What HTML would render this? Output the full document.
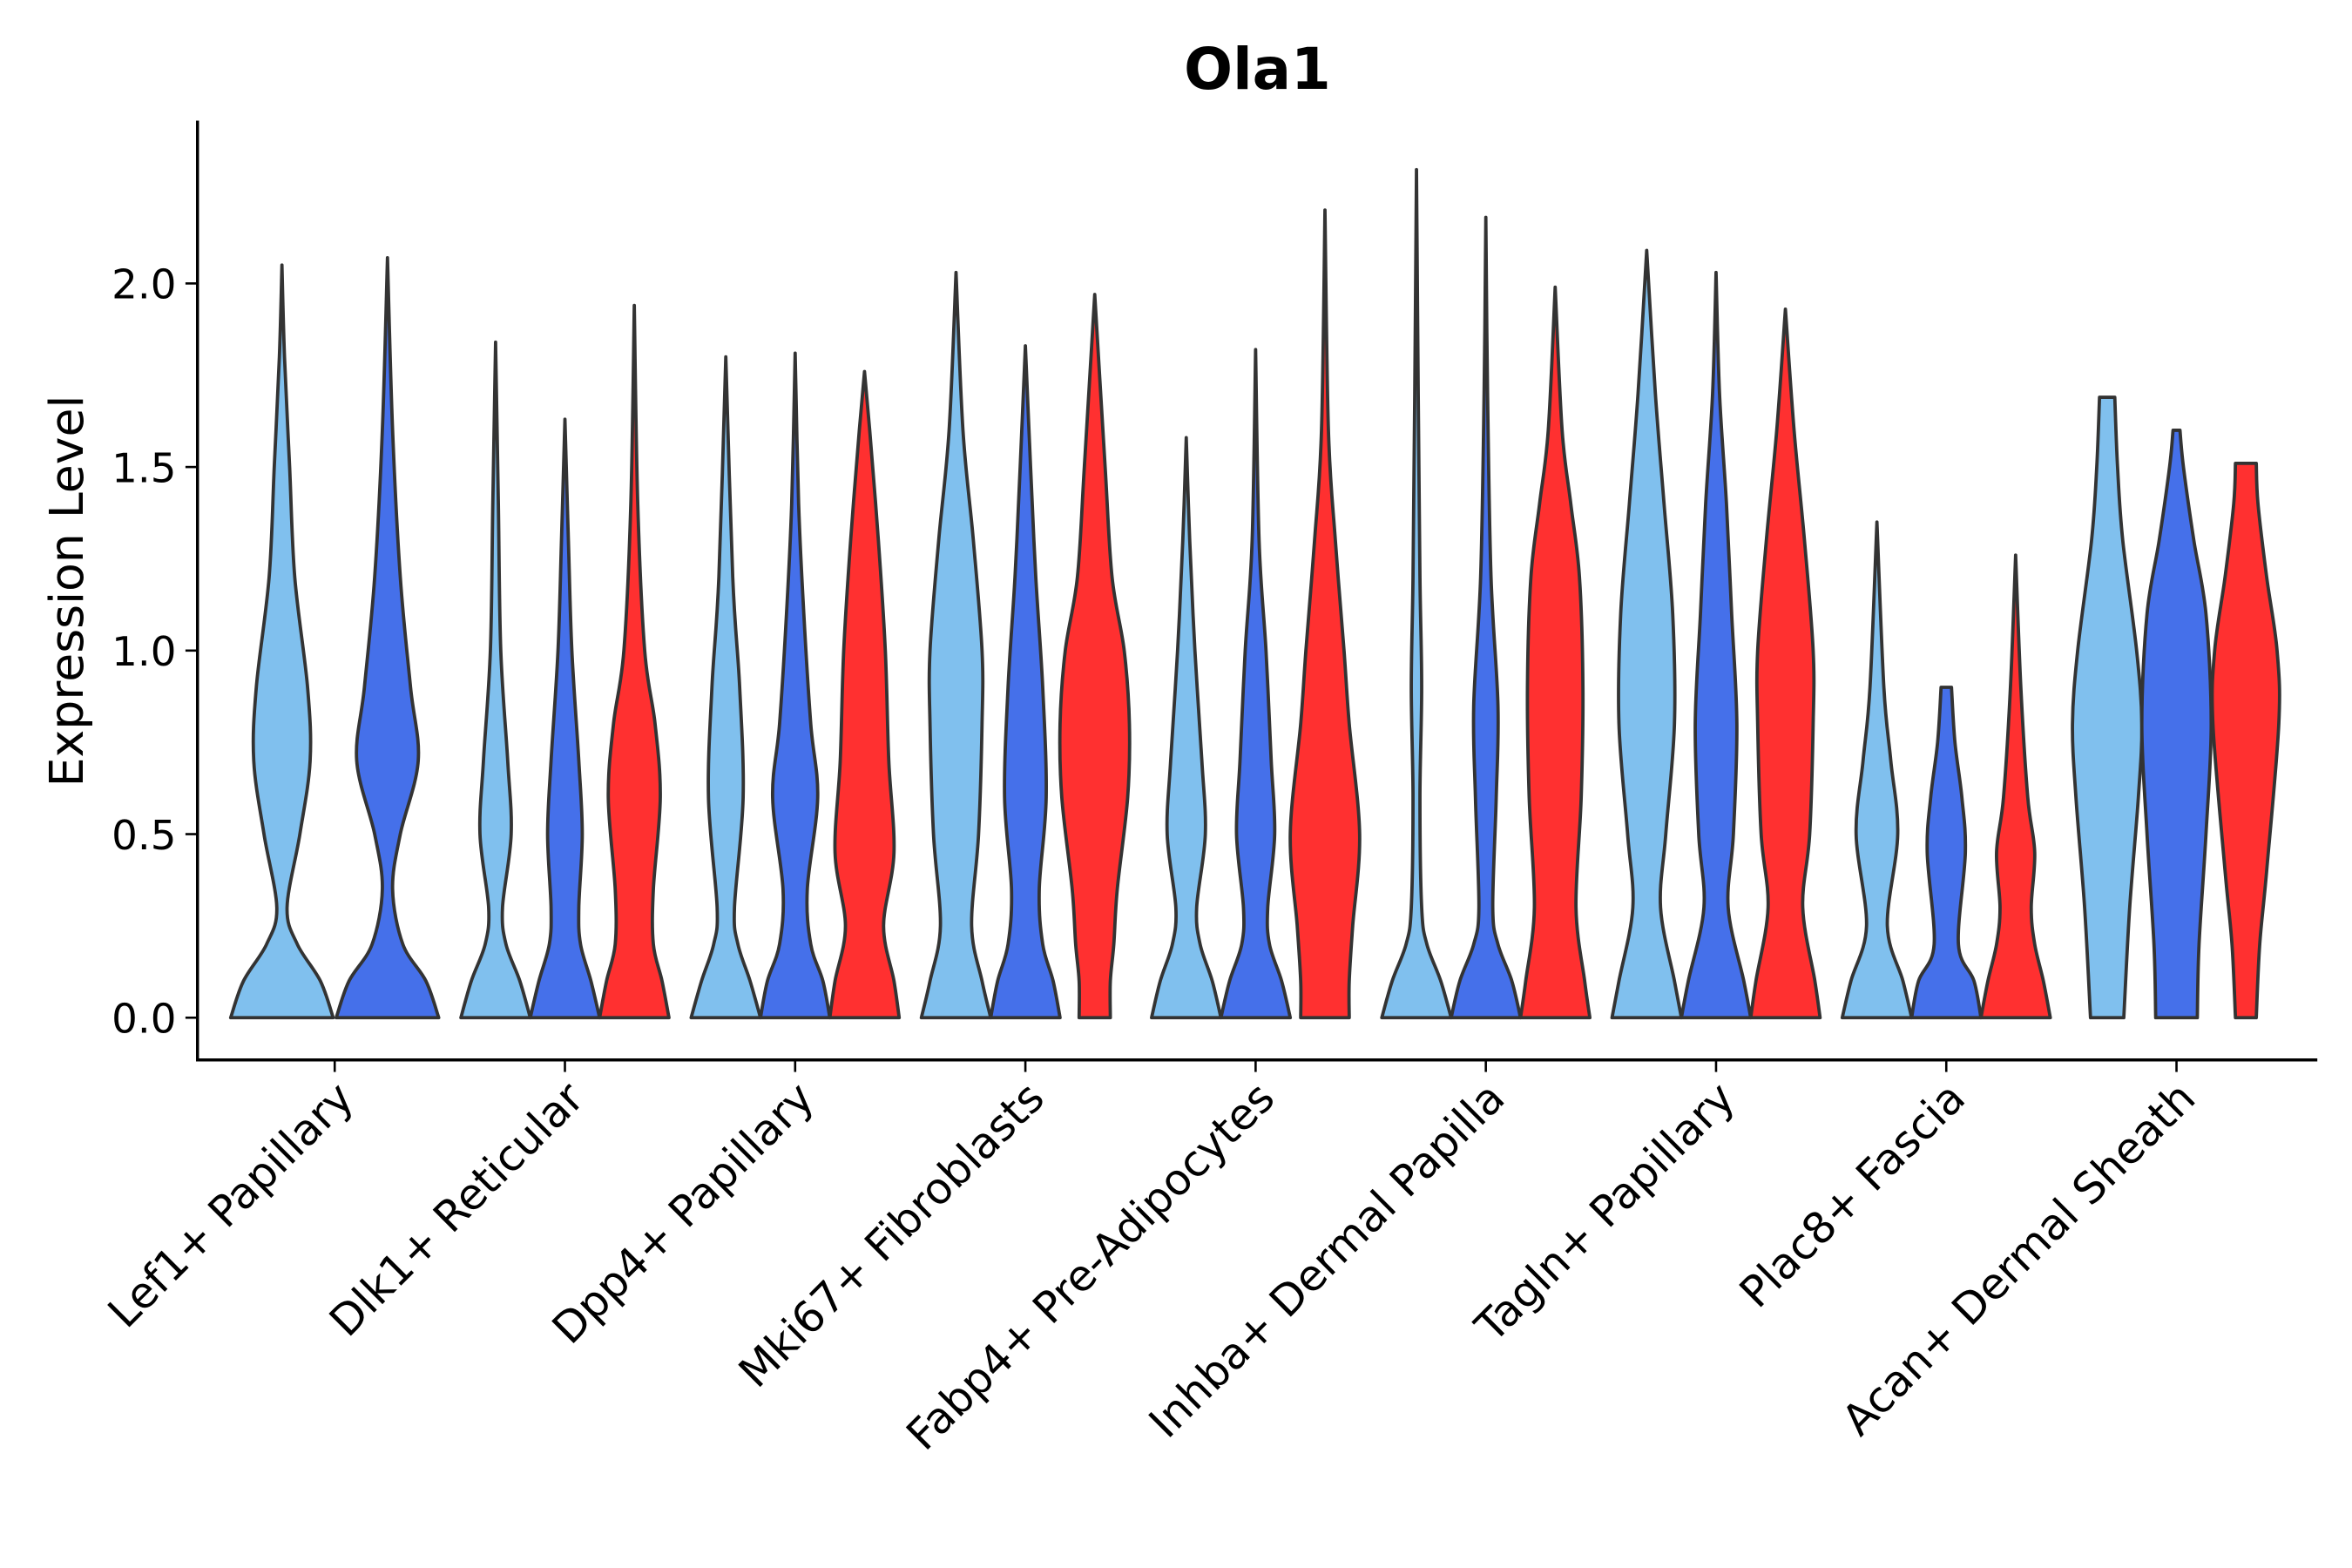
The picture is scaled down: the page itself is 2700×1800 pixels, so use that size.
<!DOCTYPE html>
<html><head><meta charset="utf-8"><style>
html,body{margin:0;padding:0;background:#fff}
svg{display:block}
text{font-family:"DejaVu Sans","Liberation Sans",sans-serif;fill:#000}
</style></head><body>
<svg id="chart" width="2700" height="1800" viewBox="0 0 1560 1040" xmlns="http://www.w3.org/2000/svg">
<text x="834" y="59" font-size="38" font-weight="bold" text-anchor="middle">Ola1</text>
<text transform="translate(55,392) rotate(-90)" font-size="31" text-anchor="middle">Expression Level</text>
<g id="violins"></g>
<g id="axes"></g>
</svg>
<script>
const categories = ["Lef1+ Papillary","Dlk1+ Reticular","Dpp4+ Papillary","Mki67+ Fibroblasts","Fabp4+ Pre-Adipocytes","Inhba+ Dermal Papilla","Tagln+ Papillary","Plac8+ Fascia","Acan+ Dermal Sheath"];
const groupColors = ["#80C0EE","#4570EA","#FF3030"];
const yTicks = [0,0.5,1.0,1.5,2.0];
const yTickLabels = ["0.0","0.5","1.0","1.5","2.0"];
const violinCat = [0,0, 1,1,1, 2,2,2, 3,3,3, 4,4,4, 5,5,5, 6,6,6, 7,7,7, 8,8,8];
const violinGroup = [0,1, 0,1,2, 0,1,2, 0,1,2, 0,1,2, 0,1,2, 0,1,2, 0,1,2, 0,1,2];
const violinKnots = [
 [[0,1],[0.1,0.75],[0.2,0.3],[0.3,0.1],[0.5,0.35],[0.7,0.55],[0.9,0.5],[1.2,0.25],[1.5,0.15],[1.8,0.05],[2.05,0]],
 [[0,1],[0.1,0.75],[0.2,0.3],[0.35,0.1],[0.5,0.25],[0.7,0.6],[0.9,0.45],[1.2,0.25],[1.6,0.1],[2.07,0]],
 [[0,1],[0.1,0.7],[0.2,0.3],[0.3,0.2],[0.5,0.45],[0.7,0.35],[1.0,0.15],[1.4,0.08],[1.84,0]],
 [[0,1],[0.1,0.75],[0.2,0.45],[0.3,0.4],[0.5,0.5],[0.7,0.4],[1.0,0.2],[1.3,0.1],[1.63,0]],
 [[0,1],[0.1,0.8],[0.2,0.55],[0.35,0.55],[0.6,0.75],[0.8,0.6],[1.0,0.3],[1.4,0.1],[1.94,0]],
 [[0,1],[0.1,0.7],[0.2,0.35],[0.3,0.25],[0.6,0.5],[0.9,0.4],[1.2,0.2],[1.8,0]],
 [[0,1],[0.1,0.8],[0.2,0.45],[0.35,0.35],[0.6,0.65],[0.8,0.45],[1.1,0.25],[1.4,0.1],[1.81,0]],
 [[0,1],[0.1,0.85],[0.25,0.55],[0.45,0.85],[0.7,0.7],[1.0,0.6],[1.3,0.4],[1.6,0.15],[1.76,0]],
 [[0,1],[0.1,0.75],[0.25,0.45],[0.5,0.65],[0.8,0.75],[1.0,0.75],[1.3,0.5],[1.6,0.2],[2.03,0]],
 [[0,1],[0.1,0.8],[0.2,0.5],[0.35,0.4],[0.6,0.6],[0.9,0.5],[1.2,0.3],[1.5,0.15],[1.83,0]],
 [[0,0.45],[0.1,0.45],[0.2,0.55],[0.35,0.65],[0.6,0.95],[0.8,1.0],[1.0,0.85],[1.2,0.5],[1.5,0.3],[1.97,0]],
 [[0,1],[0.1,0.75],[0.2,0.4],[0.3,0.3],[0.5,0.55],[0.7,0.45],[1.0,0.25],[1.3,0.1],[1.58,0]],
 [[0,1],[0.1,0.75],[0.2,0.4],[0.3,0.35],[0.5,0.55],[0.7,0.45],[1.0,0.3],[1.3,0.1],[1.82,0]],
 [[0,0.7],[0.1,0.7],[0.25,0.8],[0.5,1.0],[0.8,0.7],[1.0,0.55],[1.3,0.3],[1.6,0.1],[2.2,0]],
 [[0,1],[0.1,0.7],[0.2,0.3],[0.3,0.15],[0.6,0.1],[0.9,0.15],[1.2,0.1],[1.7,0.05],[2.31,0]],
 [[0,1],[0.1,0.75],[0.2,0.35],[0.3,0.2],[0.6,0.3],[0.85,0.35],[1.2,0.15],[1.7,0.05],[2.18,0]],
 [[0,1],[0.1,0.85],[0.3,0.6],[0.6,0.75],[0.9,0.8],[1.2,0.7],[1.4,0.45],[1.6,0.2],[1.99,0]],
 [[0,1],[0.1,0.8],[0.3,0.4],[0.5,0.55],[0.8,0.8],[1.1,0.75],[1.4,0.5],[1.7,0.25],[2.09,0]],
 [[0,1],[0.1,0.8],[0.3,0.35],[0.5,0.5],[0.8,0.6],[1.1,0.45],[1.4,0.3],[1.7,0.1],[2.03,0]],
 [[0,1],[0.1,0.85],[0.3,0.5],[0.5,0.7],[0.8,0.8],[1.0,0.8],[1.3,0.55],[1.6,0.25],[1.93,0]],
 [[0,1],[0.1,0.75],[0.25,0.3],[0.5,0.6],[0.7,0.4],[0.9,0.2],[1.35,0]],
 [[0,1],[0.1,0.8],[0.2,0.35],[0.45,0.55],[0.6,0.45],[0.75,0.25],[0.9,0.15]],
 [[0,1],[0.1,0.8],[0.2,0.55],[0.3,0.45],[0.45,0.55],[0.6,0.35],[0.9,0.15],[1.26,0]],
 [[0,0.48],[0.3,0.65],[0.6,0.9],[0.8,1.0],[1.0,0.85],[1.3,0.45],[1.5,0.3],[1.69,0.22]],
 [[0,0.6],[0.2,0.65],[0.5,0.85],[0.8,1.0],[1.1,0.85],[1.3,0.5],[1.5,0.2],[1.6,0.1]],
 [[0,0.3],[0.2,0.4],[0.4,0.6],[0.8,0.95],[1.0,0.9],[1.2,0.6],[1.4,0.35],[1.51,0.3]]
];
const NS="http://www.w3.org/2000/svg";
const plot={left:131,right:1537,bottom:703,top:80};
const y0px=675, unitPx=243.5;
function yScale(v){return y0px - v*unitPx;}
function xScale(i){return 222 + i*152.7;}
function groupCount(c){let n=0;for(let k=0;k<violinCat.length;k++) if(violinCat[k]===c) n++;return n;}
function catmull(pts){
  let d="";
  for(let i=0;i<pts.length-1;i++){
    const p0=pts[Math.max(0,i-1)],p1=pts[i],p2=pts[i+1],p3=pts[Math.min(pts.length-1,i+2)];
    const c1=[p1[0]+(p2[0]-p0[0])/6,p1[1]+(p2[1]-p0[1])/6];
    const c2=[p2[0]-(p3[0]-p1[0])/6,p2[1]-(p3[1]-p1[1])/6];
    d+=" C"+c1[0].toFixed(2)+","+c1[1].toFixed(2)+" "+c2[0].toFixed(2)+","+c2[1].toFixed(2)+" "+p2[0].toFixed(2)+","+p2[1].toFixed(2);
  }
  return d;
}
const vg=document.getElementById('violins');
for(let k=0;k<violinKnots.length;k++){
  const c=violinCat[k], g=violinGroup[k], n=groupCount(c);
  const off = n===3 ? 46 : 35;
  const hw = n===3 ? 23 : 34;
  const cx = xScale(c) + (n===3 ? (g-1)*off : (g===0?-off:off));
  const kn=violinKnots[k];
  const right=kn.map(p=>[cx+p[1]*hw, yScale(p[0])]);
  const left=kn.slice().reverse().map(p=>[cx-p[1]*hw, yScale(p[0])]);
  let d="M"+right[0][0].toFixed(2)+","+right[0][1].toFixed(2)+catmull(right);
  d+=" L"+left[0][0].toFixed(2)+","+left[0][1].toFixed(2)+catmull(left)+" Z";
  const p=document.createElementNS(NS,'path');
  p.setAttribute('d',d);
  p.setAttribute('fill',groupColors[g]);
  p.setAttribute('stroke','#333');
  p.setAttribute('stroke-width','2.2');
  p.setAttribute('stroke-linejoin','round');
  
  
  vg.appendChild(p);
}
const ag=document.getElementById('axes');
function mk(tag,attrs){const e=document.createElementNS(NS,tag);for(const a in attrs)e.setAttribute(a,attrs[a]);ag.appendChild(e);return e;}
const ya=mk('line',{x1:plot.left,y1:plot.top,x2:plot.left,y2:plot.bottom,stroke:'#000','stroke-width':2});


const xa=mk('line',{x1:plot.left-1,y1:plot.bottom,x2:plot.right,y2:plot.bottom,stroke:'#000','stroke-width':2});


yTicks.forEach((v,i)=>{
  const t=mk('line',{x1:plot.left-8,x2:plot.left,y1:yScale(v),y2:yScale(v),stroke:'#000','stroke-width':1.5});
  
  
  const l=mk('text',{x:plot.left-14,y:yScale(v)+10,'font-size':27,'text-anchor':'end'});
  l.textContent=yTickLabels[i];
  
  
});
categories.forEach((c,i)=>{
  const x=xScale(i);
  const t=mk('line',{x1:x,x2:x,y1:plot.bottom,y2:plot.bottom+8,stroke:'#000','stroke-width':1.5});
  
  
  const l=mk('text',{transform:'translate('+(x+14)+','+(plot.bottom+27)+') rotate(-45)','font-size':28.5,'text-anchor':'end'});
  l.textContent=c;
  
  
});
</script>
</body></html>
